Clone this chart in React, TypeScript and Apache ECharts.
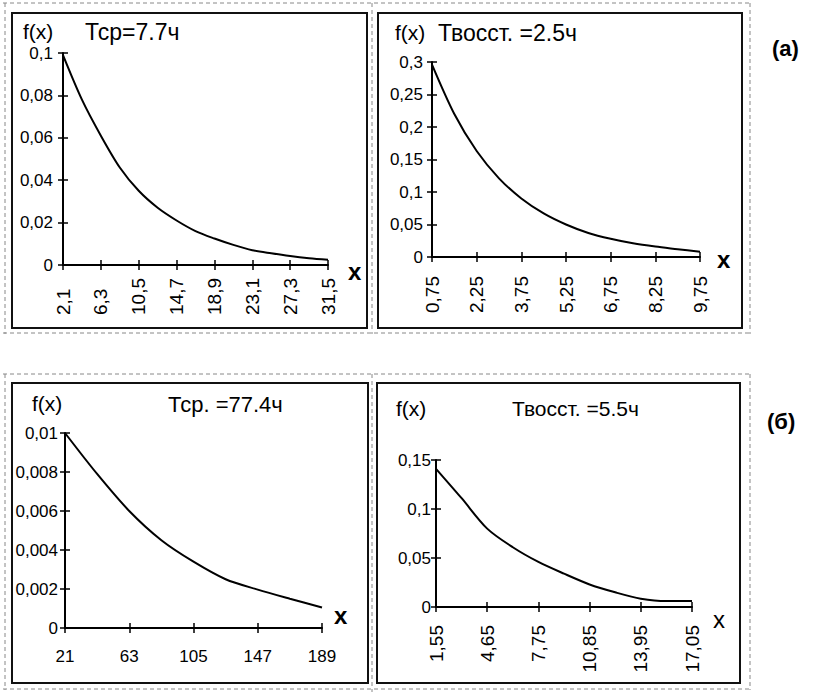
import React, { useEffect, useRef } from "react";
import * as echarts from "echarts";

// Panel (а) left: Tср = 7.7ч
const xCatsA = ["2,1", "4,2", "6,3", "8,4", "10,5", "12,6", "14,7", "16,8", "18,9", "21", "23,1", "25,2", "27,3", "29,4", "31,5"];
const fA = [0.099, 0.078, 0.061, 0.046, 0.035, 0.027, 0.021, 0.016, 0.0125, 0.0095, 0.007, 0.0055, 0.0042, 0.0032, 0.0025];

// Panel (а) right: Tвосст = 2.5ч
const xCatsB = ["0,75", "1,5", "2,25", "3", "3,75", "4,5", "5,25", "6", "6,75", "7,5", "8,25", "9", "9,75"];
const fB = [0.296, 0.22, 0.163, 0.121, 0.09, 0.067, 0.05, 0.037, 0.028, 0.021, 0.016, 0.012, 0.008];

// Panel (б) left: Tср = 77.4ч
const xCatsC = ["21", "42", "63", "84", "105", "126", "147", "168", "189"];
const fC = [0.01, 0.0079, 0.006, 0.0045, 0.0034, 0.0025, 0.00197, 0.0015, 0.00105];

// Panel (б) right: Tвосст = 5.5ч
const xCatsD = ["1,55", "3,1", "4,65", "6,2", "7,75", "9,3", "10,85", "12,4", "13,95", "15,5", "17,05"];
const fD = [0.141, 0.111, 0.08, 0.061, 0.046, 0.034, 0.023, 0.015, 0.0085, 0.006, 0.006];

const yMaxes = [0.1, 0.3, 0.01, 0.15];
const yIntervals = [0.02, 0.05, 0.002, 0.05];

const titlesLeft = ["f(x)", "f(x)", "f(x)", "f(x)"];
const titlesRight = ["Тср=7.7ч", "Твосст. =2.5ч", "Тср. =77.4ч", "Твосст. =5.5ч"];
const groupLabels = ["(а)", "(б)"];

const FONT = "'Liberation Sans', Arial, Helvetica, sans-serif";

export default function App() {
  const ref = useRef<HTMLDivElement>(null);

  useEffect(() => {
    if (!ref.current) return;
    const chart = echarts.init(ref.current, null, { renderer: "svg" });

    const grids = [
      { left: 63, top: 53, width: 265, height: 212 },
      { left: 432, top: 62, width: 268, height: 195 },
      { left: 65, top: 433, width: 257, height: 195 },
      { left: 436, top: 460, width: 256, height: 147 },
    ];
    const cats = [xCatsA, xCatsB, xCatsC, xCatsD];
    const datas = [fA, fB, fC, fD];
    const xLabelCfg: any[] = [
      { rotate: 90, align: "left", margin: 50, fontSize: 19 },
      { rotate: 90, align: "left", margin: 56, fontSize: 19 },
      { rotate: 0, margin: 20, fontSize: 17 },
      { rotate: 90, margin: 18, fontSize: 19 },
    ];
    const yLabelMargin = [10, 9, 7, 5];

    const fmt = (v: number) => (v === 0 ? "0" : String(+v.toFixed(4)).replace(".", ","));

    const xAxes: any[] = [];
    const yAxes: any[] = [];
    const series: any[] = [];
    for (let i = 0; i < 4; i++) {
      xAxes.push({
        type: "category",
        gridIndex: i,
        data: cats[i],
        boundaryGap: false,
        position: "bottom",
        axisLine: { show: true, lineStyle: { color: "#000", width: 2 } },
        axisTick: { show: true, interval: 1, length: 5, lineStyle: { color: "#000", width: 1.5 } },
        axisLabel: {
          interval: 1,
          color: "#000",
          fontFamily: FONT,
          ...xLabelCfg[i],
        },
        splitLine: { show: false },
      });
      xAxes.push({
        type: "category",
        gridIndex: i,
        data: cats[i],
        boundaryGap: false,
        position: "bottom",
        axisLine: { show: false },
        axisTick: { show: true, inside: true, interval: 1, length: 5, lineStyle: { color: "#000", width: 1.5 } },
        axisLabel: { show: false },
        splitLine: { show: false },
      });
      yAxes.push({
        type: "value",
        gridIndex: i,
        min: 0,
        max: yMaxes[i],
        interval: yIntervals[i],
        position: "left",
        axisLine: { show: true, lineStyle: { color: "#000", width: 2 } },
        axisTick: { show: true, length: 5, lineStyle: { color: "#000", width: 1.5 } },
        axisLabel: { color: "#000", fontSize: 17, fontFamily: FONT, margin: yLabelMargin[i], formatter: fmt },
        splitLine: { show: false },
      });
      yAxes.push({
        type: "value",
        gridIndex: i,
        min: 0,
        max: yMaxes[i],
        interval: yIntervals[i],
        position: "left",
        axisLine: { show: false },
        axisTick: { show: true, inside: true, length: 5, lineStyle: { color: "#000", width: 1.5 } },
        axisLabel: { show: false },
        splitLine: { show: false },
      });
      series.push({
        type: "line",
        xAxisIndex: 2 * i,
        yAxisIndex: 2 * i,
        data: datas[i],
        showSymbol: false,
        smooth: 0.3,
        lineStyle: { color: "#000", width: 2 },
      });
    }

    const dash = (x1: number, y1: number, x2: number, y2: number) => ({
      type: "line",
      shape: { x1, y1, x2, y2 },
      silent: true,
      style: { stroke: "#888", lineWidth: 1, lineDash: [4, 3] },
    });
    const box = (x: number, y: number, width: number, height: number) => ({
      type: "rect",
      shape: { x, y, width, height },
      silent: true,
      style: { fill: "none", stroke: "#111", lineWidth: 2 },
    });
    const txt = (text: string, x: number, y: number, fontSize: number, fontWeight = "normal") => ({
      type: "text",
      x,
      y,
      silent: true,
      style: {
        text,
        fill: "#000",
        font: `${fontWeight} ${fontSize}px ${FONT}`,
        textAlign: "left",
        textVerticalAlign: "middle",
      },
    });

    const graphic: any[] = [
      // dashed outer frames
      dash(3, 3, 752, 3),
      dash(5, 3, 5, 334),
      dash(372, 3, 372, 334),
      dash(750, 3, 750, 334),
      dash(3, 333, 752, 333),
      dash(3, 374, 752, 374),
      dash(5, 374, 5, 690),
      dash(372, 374, 372, 692),
      dash(750, 374, 750, 690),
      dash(3, 689, 752, 689),
      // panel boxes
      box(12, 13, 355, 315),
      box(378, 13, 364, 315),
      box(12, 383, 356, 300),
      box(377, 383, 363, 300),
      // titles
      txt(titlesLeft[0], 23, 31, 21),
      txt(titlesRight[0], 85, 32, 23),
      txt(titlesLeft[1], 395, 32, 21),
      txt(titlesRight[1], 438, 33, 23),
      txt(titlesLeft[2], 32, 403, 21),
      txt(titlesRight[2], 168, 404, 22),
      txt(titlesLeft[3], 396, 408, 21),
      txt(titlesRight[3], 512, 408, 21),
      // group labels
      txt(groupLabels[0], 772, 48, 22, "bold"),
      txt(groupLabels[1], 767, 421, 22, "bold"),
      // axis names
      txt("x", 348, 271, 24, "bold"),
      txt("x", 717, 259, 24, "bold"),
      txt("x", 334, 615, 24, "bold"),
      txt("x", 713, 619, 24, "normal"),
    ];

    chart.setOption({
      animation: false,
      backgroundColor: "#fff",
      grid: grids,
      xAxis: xAxes,
      yAxis: yAxes,
      series,
      graphic,
    });

    return () => chart.dispose();
  }, []);

  return (
    <div
      ref={ref}
      style={{ position: "absolute", left: 0, top: 0, width: 813, height: 692 }}
    />
  );
}
